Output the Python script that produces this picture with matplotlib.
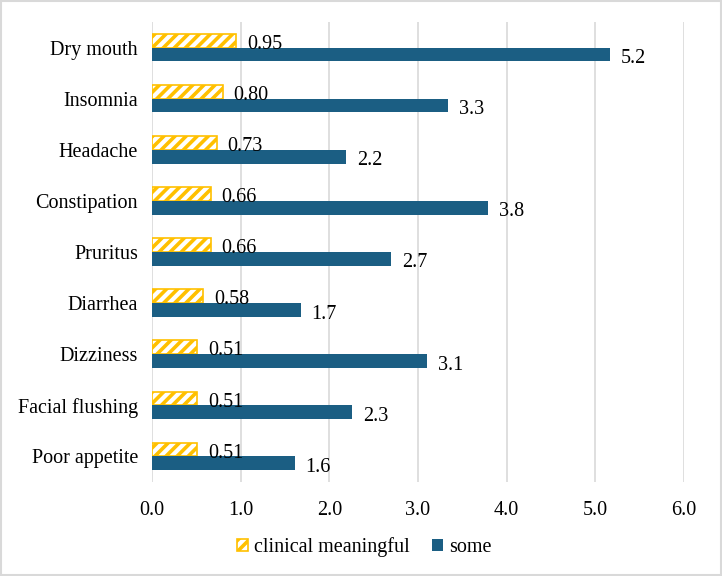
import matplotlib
matplotlib.use("Agg")
import matplotlib.pyplot as plt
from matplotlib.patches import Rectangle
import numpy as np

categories = ["Dry mouth", "Insomnia", "Headache", "Constipation", "Pruritus",
              "Diarrhea", "Dizziness", "Facial flushing", "Poor appetite"]
clinical = [0.95, 0.80, 0.73, 0.66, 0.66, 0.58, 0.51, 0.51, 0.51]
some = [5.17, 3.34, 2.19, 3.79, 2.70, 1.68, 3.10, 2.26, 1.61]
xticks = [0.0, 1.0, 2.0, 3.0, 4.0, 5.0, 6.0]

plt.rcParams['font.family'] = ['Liberation Serif', 'DejaVu Serif']
plt.rcParams['hatch.linewidth'] = 2.6

gold = '#FFC000'
blue = '#1B5E83'
fs = 14.5

fig = plt.figure(figsize=(7.22, 5.76), dpi=100)
ax = fig.add_axes([152/722, 1-482/576, (684-152)/722, (482-22)/576])

y = np.arange(len(categories))
h = 0.27
ax.barh(y - h/2, clinical, height=h, facecolor='white', edgecolor=gold,
        hatch='///', linewidth=1.2, label='clinical meaningful', zorder=3)
ax.barh(y + h/2, some, height=h, color=blue, label='some', zorder=3)

for yi, v in zip(y, clinical):
    ax.text(v + 0.12, yi - h/2 + 0.07, f"{v:.2f}", va='center', ha='left', fontsize=fs)
for yi, v in zip(y, some):
    ax.text(v + 0.12, yi + h/2 + 0.08, f"{v:.1f}", va='center', ha='left', fontsize=fs)

ax.set_xlim(0, 6)
ax.set_ylim(len(categories) - 0.5, -0.5)
ax.set_yticks(y)
ax.set_yticklabels(categories, fontsize=fs)
ax.set_xticks(xticks)
ax.set_xticklabels([f"{t:.1f}" for t in xticks], fontsize=fs)
ax.tick_params(axis='both', length=0)
ax.tick_params(axis='y', pad=10)
ax.tick_params(axis='x', pad=14)
ax.grid(axis='x', color='#D9D9D9', linewidth=1.2, zorder=0)
for s in ax.spines.values():
    s.set_visible(False)

fig.legend(loc='center', bbox_to_anchor=(0.505, 1-547/576), ncol=2, frameon=False,
           fontsize=fs, handlelength=0.55, handleheight=0.55, columnspacing=1.1,
           handletextpad=0.3)

fig.patches.append(Rectangle((0.002, 0.002), 0.996, 0.996, transform=fig.transFigure,
                             fill=False, edgecolor='#D9D9D9', linewidth=1.5))

fig.savefig('out.png', dpi=100)
